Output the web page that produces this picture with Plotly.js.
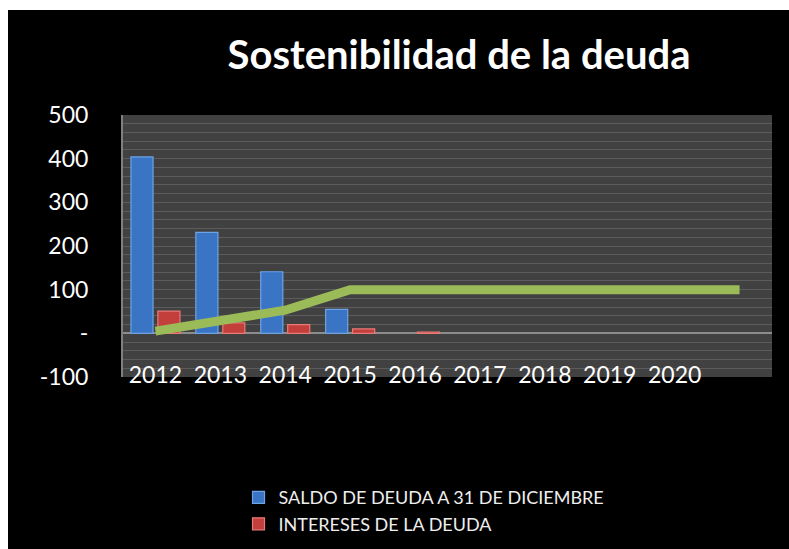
<!DOCTYPE html>
<html>
<head>
<meta charset="utf-8">
<script src="https://cdn.plot.ly/plotly-3.0.1.min.js"></script>
<style>
  html, body { margin: 0; padding: 0; background: #ffffff; width: 789px; height: 549px; overflow: hidden; }
  #chart { position: absolute; left: 8px; top: 10px; width: 781px; height: 539px; }
</style>
</head>
<body>
<div id="chart"></div>
<script>
// Data
const years = [2012, 2013, 2014, 2015, 2016, 2017, 2018, 2019, 2020, 2021];
const yearLabels = ["2012", "2013", "2014", "2015", "2016", "2017", "2018", "2019", "2020"];
const saldoDeuda = [404, 231, 141, 55, null, null, null, null, null, null];
const interesesDeuda = [51, 24, 20, 10, 3, null, null, null, null, null];
const sostenibilidad = [5, 28, 53, 100, 100, 100, 100, 100, 100, 100];
const yTickVals = [-100, 0, 100, 200, 300, 400, 500];
const yTickText = ["-100", "-", "100", "200", "300", "400", "500"];

const FONT = "Lato, 'Open Sans', sans-serif";

const traces = [
  {
    type: "bar",
    name: "SALDO DE DEUDA A 31 DE DICIEMBRE",
    x: years,
    y: saldoDeuda,
    marker: { color: "#3a74c4", line: { color: "#6ea3e6", width: 1.2 } }
  },
  {
    type: "bar",
    name: "INTERESES DE LA DEUDA",
    x: years,
    y: interesesDeuda,
    marker: { color: "#c23f3c", line: { color: "#ea7a76", width: 1.2 } }
  },
  {
    type: "scatter",
    mode: "lines",
    name: "Sostenibilidad",
    x: years,
    y: sostenibilidad,
    showlegend: false,
    line: { color: "#9bbb59", width: 9 }
  }
];

const layout = {
  width: 781,
  height: 539,
  paper_bgcolor: "#000000",
  plot_bgcolor: "#414141",
  margin: { l: 115, r: 17, t: 105, b: 172, autoexpand: false },
  font: { family: FONT, color: "#ffffff" },
  title: {
    text: "<b>Sostenibilidad de la deuda</b>",
    font: { family: FONT, size: 40, color: "#ffffff" },
    x: 0.5775, xref: "container", xanchor: "center",
    y: 0.9165, yref: "container", yanchor: "middle"
  },
  barmode: "group",
  bargap: 0.17,
  bargroupgap: 0.18,
  xaxis: {
    range: [2011.5, 2021.5],
    tickvals: yearLabels.map(Number),
    ticktext: yearLabels,
    anchor: "free",
    position: 0.069,
    showgrid: false,
    zeroline: false,
    showline: false,
    ticks: "",
    tickfont: { family: FONT, size: 23, color: "#ffffff" }
  },
  yaxis: {
    range: [-100, 500],
    tickvals: yTickVals,
    ticktext: yTickText,
    showgrid: true,
    gridcolor: "#5c5c5c",
    gridwidth: 1,
    minor: { dtick: 20, showgrid: true, gridcolor: "#5c5c5c", gridwidth: 1 },
    zeroline: true,
    zerolinecolor: "#8c8c8c",
    zerolinewidth: 2,
    showline: true,
    linecolor: "#7f7f7f",
    linewidth: 2,
    ticks: "outside",
    ticklen: 28,
    tickcolor: "rgba(0,0,0,0)",
    tickfont: { family: FONT, size: 23, color: "#ffffff" }
  },
  legend: {
    orientation: "v",
    x: 0.178, xanchor: "left",
    y: -0.39, yanchor: "top",
    bgcolor: "rgba(0,0,0,0)",
    font: { family: FONT, size: 18, color: "#eeeeee" },
    itemwidth: 30
  },
  showlegend: true
};

Plotly.newPlot("chart", traces, layout, { displayModeBar: false, staticPlot: true });
</script>
</body>
</html>
